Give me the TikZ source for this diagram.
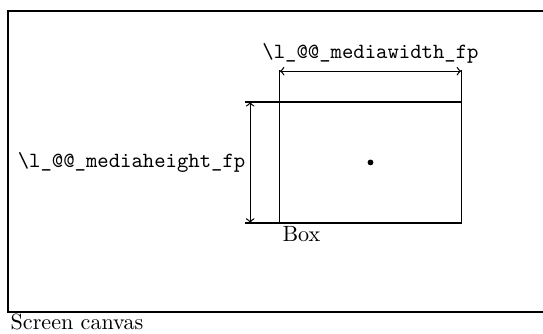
\documentclass[tikz,border=0pt]{standalone}
\begin{document}
\begin{tikzpicture}[line width=0.6pt,
		boxtext/.style={anchor=north west, inner sep=1pt, font=\fontsize{10.6}{13}\selectfont},
		codetext/.style={font=\fontsize{10.4}{12}\selectfont\ttfamily}]
		\clip (0,0) rectangle (9.16,5.62);

		\coordinate (canvassw) at (0.135,0.36);
		\coordinate (canvasne) at (9.5,5.43);
		\draw[line width=1pt] (canvassw) rectangle (canvasne);
		\node[boxtext, inner ysep=0.5pt] (canvaslabel) at (canvassw) {Screen canvas};

		\coordinate (boxsw) at (4.72,1.86);
		\coordinate (boxnw) at (4.72,3.90);
		\coordinate (boxne) at (7.78,3.90);
		\draw (boxsw) rectangle (boxne);
		\node[boxtext] (boxlabel) at ([yshift=-0.5pt]boxsw) {Box};
		\node[circle, fill, inner sep=0pt, minimum size=2.8pt] (boxcentre) at (6.25,2.88) {};

		\coordinate (widthl) at (4.72,4.42);
		\coordinate (widthr) at (7.78,4.42);
		\draw (boxnw) -- ([yshift=0.5pt]widthl);
		\draw (boxne) -- ([yshift=0.5pt]widthr);
		\draw[<->] (widthl) -- (widthr) node[above, midway, codetext] (widthlabel) {\textbackslash l\_@@\_mediawidth\_fp};

		\coordinate (heightt) at (4.22,3.90);
		\coordinate (heightb) at (4.22,1.86);
		\draw (boxnw) -- ([xshift=-2.5pt]heightt);
		\draw (boxsw) -- ([xshift=-2.5pt]heightb);
		\draw[<->] (heightt) -- (heightb) node[left, midway, inner sep=2pt, codetext] (heightlabel) {\textbackslash l\_@@\_mediaheight\_fp};
	\end{tikzpicture}
\end{document}
